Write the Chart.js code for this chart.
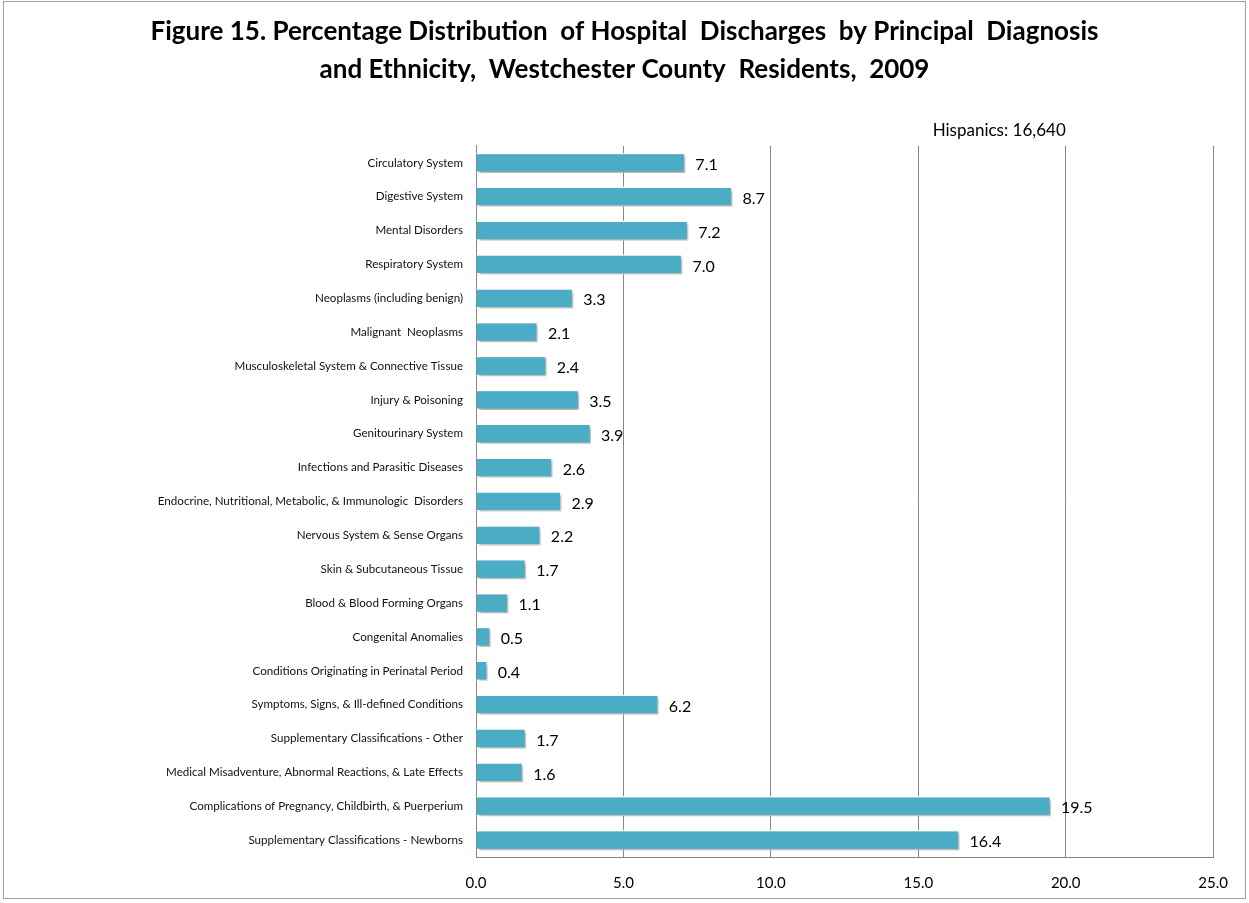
<!DOCTYPE html>
<html>
<head>
<meta charset="utf-8">
<script src="https://cdn.jsdelivr.net/npm/chart.js@4/dist/chart.umd.min.js"></script>
<style>
  html, body { margin: 0; padding: 0; background: #fff; }
  #wrap { position: absolute; left: 3px; top: 1px; width: 1243px; height: 898px; border: 1px solid #a0a0a0; box-sizing: border-box; }
  #chart { position: absolute; left: 0; top: 0; }
</style>
</head>
<body>
<div id="wrap"><canvas id="chart" width="1241" height="896"></canvas></div>
<script>
const categories = [
  "Circulatory System",
  "Digestive System",
  "Mental Disorders",
  "Respiratory System",
  "Neoplasms (including benign)",
  "Malignant  Neoplasms",
  "Musculoskeletal System & Connective Tissue",
  "Injury & Poisoning",
  "Genitourinary System",
  "Infections and Parasitic Diseases",
  "Endocrine, Nutritional, Metabolic, & Immunologic  Disorders",
  "Nervous System & Sense Organs",
  "Skin & Subcutaneous Tissue",
  "Blood & Blood Forming Organs",
  "Congenital Anomalies",
  "Conditions Originating in Perinatal Period",
  "Symptoms, Signs, & Ill-defined Conditions",
  "Supplementary Classifications - Other",
  "Medical Misadventure, Abnormal Reactions, & Late Effects",
  "Complications of Pregnancy, Childbirth, & Puerperium",
  "Supplementary Classifications - Newborns"
];
const hispanicPct = [7.1, 8.7, 7.2, 7.0, 3.3, 2.1, 2.4, 3.5, 3.9, 2.6, 2.9, 2.2, 1.7, 1.1, 0.5, 0.4, 6.2, 1.7, 1.6, 19.5, 16.4];
const xTicks = [0, 5, 10, 15, 20, 25];
const seriesNote = "Hispanics: 16,640";

const FONT = "Lato, 'Open Sans', sans-serif";

// shadow under the bars
const barShadow = {
  id: "barShadow",
  beforeDatasetsDraw(chart) {
    const ctx = chart.ctx;
    ctx.save();
    ctx.shadowColor = "rgba(0,0,0,0.35)";
    ctx.shadowBlur = 3;
    ctx.shadowOffsetX = 2;
    ctx.shadowOffsetY = 2;
  },
  afterDatasetsDraw(chart) {
    chart.ctx.restore();
  }
};

// value labels and the series note
const valueLabels = {
  id: "valueLabels",
  afterDraw(chart) {
    const ctx = chart.ctx;
    const meta = chart.getDatasetMeta(0);
    ctx.save();
    ctx.fillStyle = "#000";
    ctx.font = "16px " + FONT;
    ctx.textBaseline = "middle";
    ctx.textAlign = "left";
    meta.data.forEach((bar, i) => {
      ctx.fillText(hispanicPct[i].toFixed(1), bar.x + 10, bar.y + 2);
    });
    const xs = chart.scales.x;
    ctx.textAlign = "right";
    ctx.font = "17px " + FONT;
    ctx.fillText(seriesNote, xs.getPixelForValue(20), chart.chartArea.top - 15);
    ctx.restore();
  }
};

new Chart(document.getElementById("chart"), {
  type: "bar",
  data: {
    labels: categories,
    datasets: [{
      label: "Hispanics",
      data: hispanicPct,
      backgroundColor: "#4bacc6",
      borderColor: "#ffffff",
      borderWidth: 1.5,
      barPercentage: 0.6,
      categoryPercentage: 1.0
    }]
  },
  options: {
    indexAxis: "y",
    responsive: false,
    animation: false,
    layout: { padding: { left: 31, right: 31, top: 0, bottom: 0 } },
    plugins: {
      legend: { display: false },
      tooltip: { enabled: false },
      title: {
        display: true,
        text: ["Figure 15. Percentage Distribution  of Hospital  Discharges  by Principal  Diagnosis", "and Ethnicity,  Westchester County  Residents,  2009"],
        color: "#000",
        font: { family: FONT, size: 26, weight: "bold", lineHeight: 1.46 },
        padding: { top: 11, bottom: 57 }
      }
    },
    scales: {
      x: {
        min: 0,
        max: 25,
        afterBuildTicks(scale) { scale.ticks = xTicks.map(v => ({ value: v })); },
        grid: { color: "#868686", lineWidth: 1, drawTicks: false },
        border: { display: true, color: "#868686", width: 1 },
        ticks: {
          color: "#000",
          font: { family: FONT, size: 15 },
          padding: 17,
          callback: v => v.toFixed(1)
        },
        afterFit(scale) { scale.height = 41; }
      },
      y: {
        grid: { display: false, drawTicks: false },
        border: { display: true, color: "#868686", width: 1 },
        ticks: {
          color: "#111",
          font: { family: FONT, size: 11.6 },
          padding: 13,
          autoSkip: false
        },
        afterFit(scale) { scale.width = 441; }
      }
    }
  },
  plugins: [barShadow, valueLabels]
});
</script>
</body>
</html>
